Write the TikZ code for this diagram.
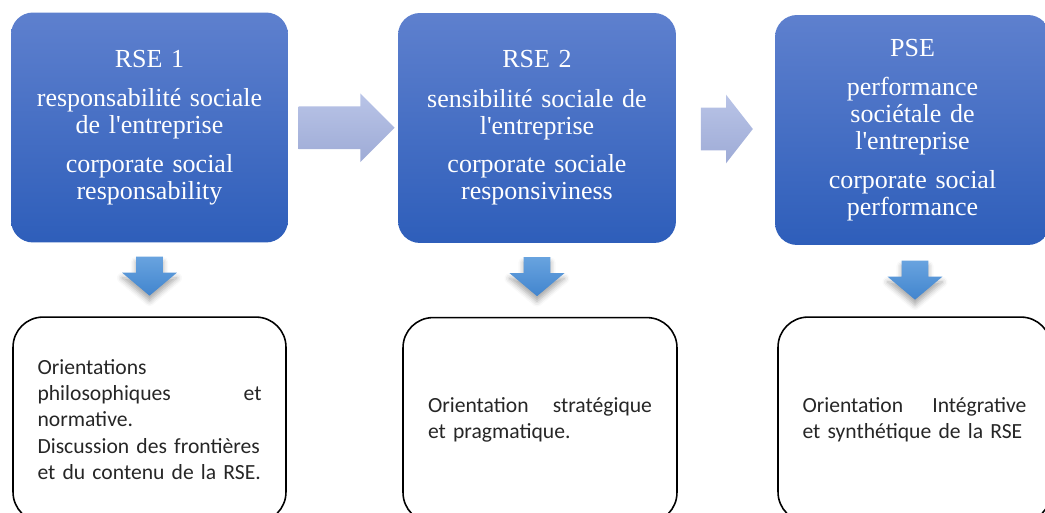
\documentclass[tikz,border=0pt]{standalone}
\usepackage{fontspec}
\setmainfont{Liberation Serif}
\newfontfamily\carlito{Carlito}
\usetikzlibrary{positioning, calc, shapes.arrows, shadows.blur}
\definecolor{rseHaut}{RGB}{94,128,206}
\definecolor{rseBas}{RGB}{46,94,186}
\definecolor{flecheHaut}{RGB}{185,196,231}
\definecolor{flecheBas}{RGB}{158,171,214}
\definecolor{bleuHaut}{RGB}{104,163,223}
\definecolor{bleuBas}{RGB}{66,133,206}
\newcommand{\apos}{\textquotesingle}
\tikzset{
	rse/.style={rounded corners=0.44cm, top color=rseHaut, bottom color=rseBas,
		text=white, align=center, text width=5.3cm, inner sep=0pt,
		minimum height=4.6cm, font=\fontsize{14.8}{15.4}\selectfont},
	fleche/.style={single arrow, inner xsep=0pt, inner ysep=0.42cm,
		single arrow head extend=0.26cm, top color=flecheHaut, bottom color=flecheBas},
	descente/.style={single arrow, shape border rotate=270, inner xsep=0.26cm, inner ysep=0pt,
		minimum height=0.78cm, single arrow head extend=0.28cm,
		single arrow tip angle=100, top color=bleuHaut, bottom color=bleuBas,
		blur shadow={shadow xshift=0pt, shadow yshift=-3pt, shadow blur radius=3pt, shadow opacity=35}},
	orientation/.style={draw, line width=0.9pt, rounded corners=0.6cm, minimum height=4.1cm,
		text width=4.48cm, align=left, text=black!85, inner sep=0pt,
		font=\carlito\fontsize{12.3}{15}\selectfont},
}

\begin{document}
\begin{tikzpicture}[x=0.02cm,y=-0.02cm]
	\useasboundingbox (0,0) rectangle (1045,513);
	\clip (0,0) rectangle (1045,513);

	% les trois conceptions
	\node[rse, minimum width=5.54cm] (RSE1) at (149.5,127.5) {RSE 1\\[7pt] responsabilité sociale\\ de l\apos entreprise\\[6.5pt] corporate social\\ responsability};
	\node[rse, minimum width=5.56cm] (RSE2) at (537,128) {RSE 2\\[7pt] sensibilité sociale de\\ l\apos entreprise\\[6.5pt] corporate sociale\\ responsiviness};
	\node[rse, minimum width=5.5cm] (PSE) at (912.5,130) {PSE\\[7pt] performance\\ sociétale de\\ l\apos entreprise\\[6.5pt] corporate social\\ performance};

	% passage de l'une a l'autre
	\node[fleche, minimum height=1.92cm, single arrow tip angle=90, xshift=-0.14cm] (F1) at ($(RSE1.east)!0.5!(RSE2.west)$) {};
	\node[fleche, minimum height=1.04cm, single arrow tip angle=104, xshift=-0.14cm] (F2) at ($(RSE2.east)!0.5!(PSE.west)$) {};

	\node[descente, below=0.27cm of RSE1] (D1) {};
	\node[descente, below=0.27cm of RSE2] (D2) {};
	\node[descente, below=0.3cm of PSE, xshift=0.05cm] (D3) {};

	% orientations
	\node[orientation, below=1.47cm of RSE1, minimum width=5.46cm] (O1) {Orientations\\ philosophiques \hfill et\\ normative.\\ Discussion des frontières\\ et du contenu de la RSE.};
	\node[orientation, below=1.47cm of RSE2, xshift=0.06cm, minimum width=5.48cm] (O2) {Orientation \hfill stratégique\\ et pragmatique.};
	\node[orientation, below=1.42cm of PSE, xshift=0.04cm, minimum width=5.46cm] (O3) {Orientation \hfill Intégrative\\ et synthétique de la RSE};
\end{tikzpicture}
\end{document}
